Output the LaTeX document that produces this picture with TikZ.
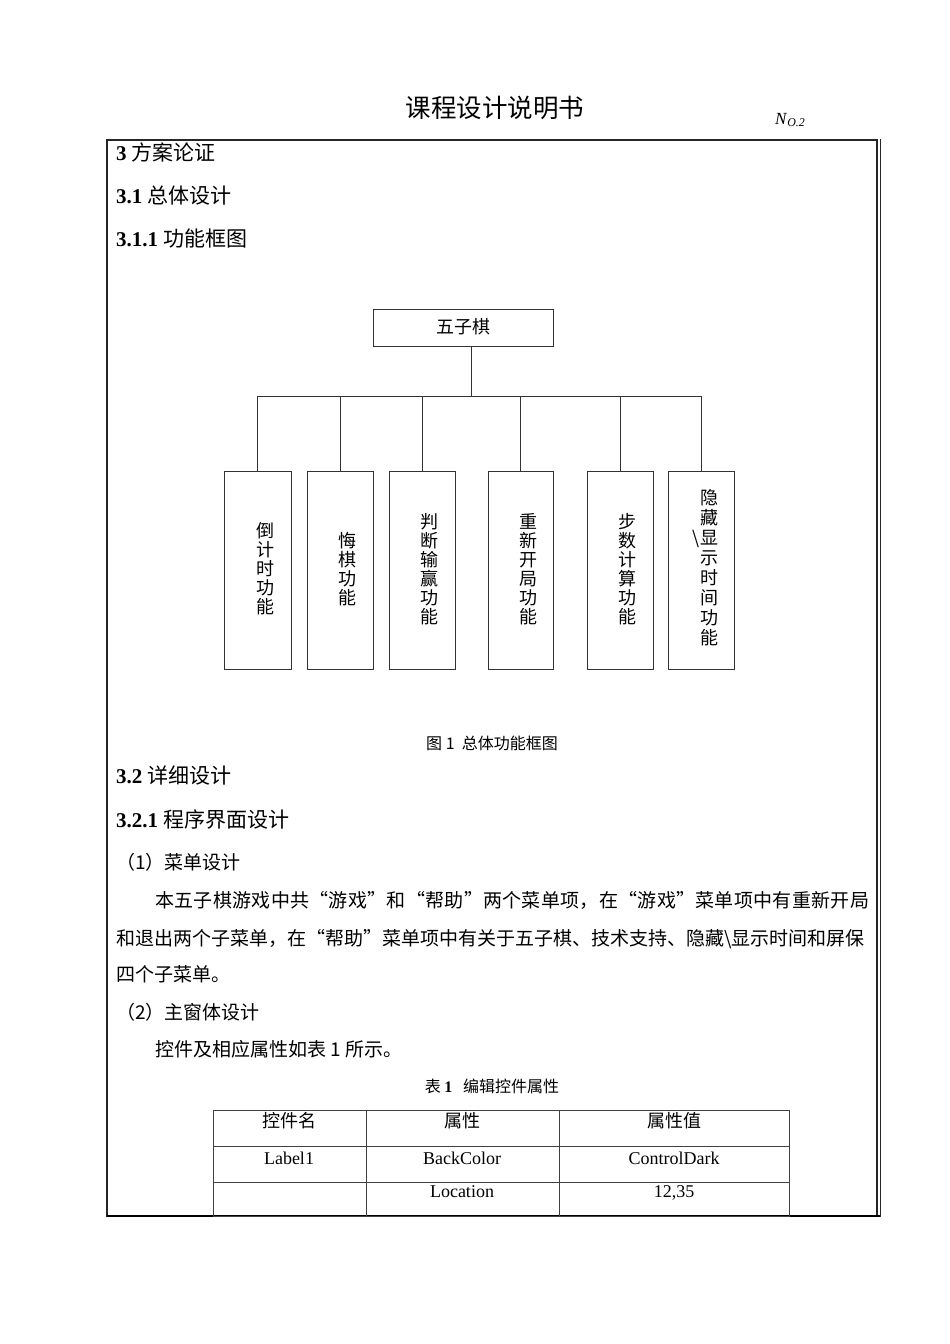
\documentclass[tikz,border=0pt]{standalone}
\usepackage{fontspec}
\setmainfont{Liberation Serif}
\newfontfamily\cjk{Noto Sans CJK SC}
\begin{document}
\begin{tikzpicture}[x=1pt,y=-1pt,
  frameline/.style={line width=1.1pt,black!85},
  fbox/.style={draw,line width=0.9pt,black!80,inner sep=0pt},
  conn/.style={line width=0.9pt,black!80},
  tline/.style={line width=0.9pt,black!75},
  head/.style={inner sep=0pt,anchor=base west,font=\fontsize{21}{24}\selectfont},
  body/.style={inner sep=0pt,anchor=base west,font=\cjk\fontsize{19}{22}\selectfont},
  vtext/.style={inner sep=0pt,align=center,font=\cjk\fontsize{18}{19}\selectfont},
  cell/.style={inner sep=0pt,anchor=base,font=\fontsize{18}{21}\selectfont},
  captext/.style={inner sep=0pt,anchor=base,font=\cjk\fontsize{16}{18}\selectfont}]
\useasboundingbox[fill=white] (0,0) rectangle (950,1344);

% title
\node[inner sep=0pt,anchor=base,font=\cjk\fontsize{25.5}{30}\selectfont] (title) at (495,117) {课程设计说明书};
\node[inner sep=0pt,anchor=base west,font=\fontsize{17}{20}\selectfont] (no) at (775,124) {\textit{N}\textsubscript{\textit{O.2}}};

% page frame
\draw[frameline] (107,140) rectangle (877,1216);
\draw[line width=1pt,black!85] (880,139) -- (880,1217);
\draw[line width=1.8pt,black] (107,1216) -- (880,1216);

% headings
\node[head] (h3) at (116,160) {\textbf{3} {\cjk 方案论证}};
\node[head] (h31) at (116,203) {\textbf{3.1} {\cjk 总体设计}};
\node[head] (h311) at (116,246) {\textbf{3.1.1} {\cjk 功能框图}};

% diagram
\node[fbox,minimum width=180pt,minimum height=37pt] (top) at (463,327.5) {};
\node[vtext] (toptxt) at (463,327) {五子棋};

\node[fbox,minimum width=67pt,minimum height=198pt] (b1) at (257.5,570) {};
\node[fbox,minimum width=66pt,minimum height=198pt] (b2) at (340,570) {};
\node[fbox,minimum width=66pt,minimum height=198pt] (b3) at (422,570) {};
\node[fbox,minimum width=65pt,minimum height=198pt] (b4) at (520.5,570) {};
\node[fbox,minimum width=66pt,minimum height=198pt] (b5) at (620,570) {};
\node[fbox,minimum width=66pt,minimum height=198pt] (b6) at (701,570) {};

\node[vtext] (t1) at (265,569) {倒\\计\\时\\功\\能};
\node[vtext] (t2) at (347,569) {悔\\棋\\功\\能};
\node[vtext] (t3) at (429,569) {判\\断\\输\\赢\\功\\能};
\node[vtext] (t4) at (528,569) {重\\新\\开\\局\\功\\能};
\node[vtext] (t5) at (627,569) {步\\数\\计\\算\\功\\能};
\node[vtext,font=\cjk\fontsize{18}{20}\selectfont] (t6) at (709,568) {隐\\藏\\\llap{\textbackslash}显\\示\\时\\间\\功\\能};

\coordinate (hub) at (471,396);
\draw[conn] (top.south -| hub) -- (hub);
\draw[conn] (b1.north |- hub) -- (b6.north |- hub);
\foreach \b in {b1,b2,b3,b4,b5,b6}{
  \draw[conn] (\b.north |- hub) -- (\b.north);
}

\node[captext] (cap1) at (492,749) {图 1\ \ 总体功能框图};

% section 3.2
\node[head] (h32) at (116,783) {\textbf{3.2} {\cjk 详细设计}};
\node[head] (h321) at (116,827) {\textbf{3.2.1} {\cjk 程序界面设计}};
\node[body] (p1) at (116,869) {（1）菜单设计};
\node[body,font=\cjk\fontsize{19}{22}\selectfont\addfontfeature{LetterSpace=1.6}] (l1) at (155,907) {本五子棋游戏中共“游戏”和“帮助”两个菜单项，在“游戏”菜单项中有重新开局};
\node[body] (l2) at (116,945) {和退出两个子菜单，在“帮助”菜单项中有关于五子棋、技术支持、隐藏\textbackslash 显示时间和屏保};
\node[body] (l3) at (116,981) {四个子菜单。};
\node[body] (p2) at (116,1019) {（2）主窗体设计};
\node[body] (l4) at (155,1056) {控件及相应属性如表 1 所示。};

\node[captext] (cap2) at (492,1092) {表 {\rmfamily\bfseries 1}\ \ \ 编辑控件属性};

% table
\draw[tline] (213,1110) rectangle (789,1216);
\draw[tline] (213,1146) -- (789,1146);
\draw[tline] (213,1182) -- (789,1182);
\draw[tline] (366,1110) -- (366,1216);
\draw[tline] (559,1110) -- (559,1216);

\node[cell,font=\cjk\fontsize{18}{21}\selectfont] (c11) at (289,1127) {控件名};
\node[cell,font=\cjk\fontsize{18}{21}\selectfont] (c12) at (462,1127) {属性};
\node[cell,font=\cjk\fontsize{18}{21}\selectfont] (c13) at (674,1127) {属性值};
\node[cell] (c21) at (289,1164) {Label1};
\node[cell] (c22) at (462,1164) {BackColor};
\node[cell] (c23) at (674,1164) {ControlDark};
\node[cell] (c32) at (462,1197) {Location};
\node[cell] (c33) at (674,1197) {12,35};
\end{tikzpicture}
\end{document}
